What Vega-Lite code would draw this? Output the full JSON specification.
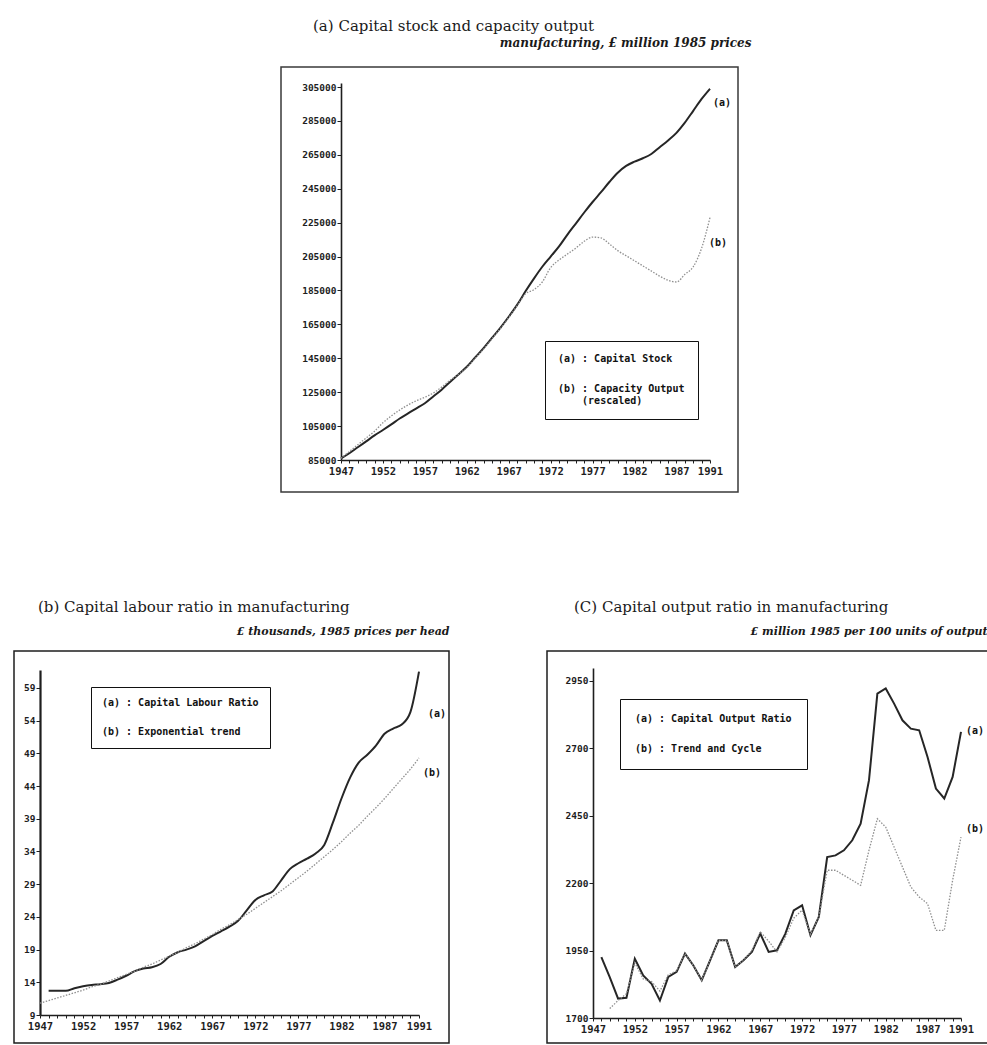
{
  "$schema": "https://vega.github.io/schema/vega-lite/v6.json",
  "background": "white",
  "autosize": {"type": "pad"},
  "padding": {"left": 13, "top": 18, "right": 0, "bottom": 0},
  "datasets": {
    "capital": [
      {"year":1947,"series":"a","value":86000},{"year":1948,"series":"a","value":89000},{"year":1949,"series":"a","value":92500},{"year":1950,"series":"a","value":96000},{"year":1951,"series":"a","value":99500},{"year":1952,"series":"a","value":102700},{"year":1953,"series":"a","value":106000},{"year":1954,"series":"a","value":109500},{"year":1955,"series":"a","value":112500},{"year":1956,"series":"a","value":115500},{"year":1957,"series":"a","value":118500},{"year":1958,"series":"a","value":122500},{"year":1959,"series":"a","value":126500},{"year":1960,"series":"a","value":131000},{"year":1961,"series":"a","value":135500},{"year":1962,"series":"a","value":140000},{"year":1963,"series":"a","value":145500},{"year":1964,"series":"a","value":151000},{"year":1965,"series":"a","value":157000},{"year":1966,"series":"a","value":163000},{"year":1967,"series":"a","value":169500},{"year":1968,"series":"a","value":176500},{"year":1969,"series":"a","value":184500},{"year":1970,"series":"a","value":192000},{"year":1971,"series":"a","value":199000},{"year":1972,"series":"a","value":205000},{"year":1973,"series":"a","value":211000},{"year":1974,"series":"a","value":218000},{"year":1975,"series":"a","value":224500},{"year":1976,"series":"a","value":231000},{"year":1977,"series":"a","value":237200},{"year":1978,"series":"a","value":243000},{"year":1979,"series":"a","value":249000},{"year":1980,"series":"a","value":254500},{"year":1981,"series":"a","value":258500},{"year":1982,"series":"a","value":261000},{"year":1983,"series":"a","value":263000},{"year":1984,"series":"a","value":265500},{"year":1985,"series":"a","value":269500},{"year":1986,"series":"a","value":273500},{"year":1987,"series":"a","value":278000},{"year":1988,"series":"a","value":284000},{"year":1989,"series":"a","value":291000},{"year":1990,"series":"a","value":298000},{"year":1991,"series":"a","value":304000},
      {"year":1947,"series":"b","value":86000},{"year":1948,"series":"b","value":90000},{"year":1949,"series":"b","value":94000},{"year":1950,"series":"b","value":98000},{"year":1951,"series":"b","value":102000},{"year":1952,"series":"b","value":107000},{"year":1953,"series":"b","value":111000},{"year":1954,"series":"b","value":114500},{"year":1955,"series":"b","value":117500},{"year":1956,"series":"b","value":120000},{"year":1957,"series":"b","value":122000},{"year":1958,"series":"b","value":124500},{"year":1959,"series":"b","value":128000},{"year":1960,"series":"b","value":132000},{"year":1961,"series":"b","value":135500},{"year":1962,"series":"b","value":139500},{"year":1963,"series":"b","value":145000},{"year":1964,"series":"b","value":150500},{"year":1965,"series":"b","value":156500},{"year":1966,"series":"b","value":162500},{"year":1967,"series":"b","value":169000},{"year":1968,"series":"b","value":176000},{"year":1969,"series":"b","value":183000},{"year":1970,"series":"b","value":185500},{"year":1971,"series":"b","value":190000},{"year":1972,"series":"b","value":198500},{"year":1973,"series":"b","value":203000},{"year":1974,"series":"b","value":206500},{"year":1975,"series":"b","value":210000},{"year":1976,"series":"b","value":214000},{"year":1977,"series":"b","value":216500},{"year":1978,"series":"b","value":216000},{"year":1979,"series":"b","value":212500},{"year":1980,"series":"b","value":208500},{"year":1981,"series":"b","value":205500},{"year":1982,"series":"b","value":202500},{"year":1983,"series":"b","value":199500},{"year":1984,"series":"b","value":196500},{"year":1985,"series":"b","value":193500},{"year":1986,"series":"b","value":191000},{"year":1987,"series":"b","value":190000},{"year":1988,"series":"b","value":194500},{"year":1989,"series":"b","value":199000},{"year":1990,"series":"b","value":210000},{"year":1991,"series":"b","value":228000}
    ],
    "labour": [
      {"year":1948,"series":"a","value":12.7},{"year":1949,"series":"a","value":12.7},{"year":1950,"series":"a","value":12.7},{"year":1951,"series":"a","value":13.1},{"year":1952,"series":"a","value":13.4},{"year":1953,"series":"a","value":13.6},{"year":1954,"series":"a","value":13.7},{"year":1955,"series":"a","value":13.9},{"year":1956,"series":"a","value":14.4},{"year":1957,"series":"a","value":15.0},{"year":1958,"series":"a","value":15.7},{"year":1959,"series":"a","value":16.1},{"year":1960,"series":"a","value":16.3},{"year":1961,"series":"a","value":16.8},{"year":1962,"series":"a","value":17.9},{"year":1963,"series":"a","value":18.6},{"year":1964,"series":"a","value":19.0},{"year":1965,"series":"a","value":19.5},{"year":1966,"series":"a","value":20.3},{"year":1967,"series":"a","value":21.1},{"year":1968,"series":"a","value":21.8},{"year":1969,"series":"a","value":22.5},{"year":1970,"series":"a","value":23.4},{"year":1971,"series":"a","value":25.0},{"year":1972,"series":"a","value":26.6},{"year":1973,"series":"a","value":27.3},{"year":1974,"series":"a","value":27.9},{"year":1975,"series":"a","value":29.6},{"year":1976,"series":"a","value":31.3},{"year":1977,"series":"a","value":32.2},{"year":1978,"series":"a","value":32.9},{"year":1979,"series":"a","value":33.7},{"year":1980,"series":"a","value":35.0},{"year":1981,"series":"a","value":38.4},{"year":1982,"series":"a","value":42.1},{"year":1983,"series":"a","value":45.3},{"year":1984,"series":"a","value":47.6},{"year":1985,"series":"a","value":48.8},{"year":1986,"series":"a","value":50.2},{"year":1987,"series":"a","value":52.0},{"year":1988,"series":"a","value":52.8},{"year":1989,"series":"a","value":53.4},{"year":1990,"series":"a","value":55.3},{"year":1991,"series":"a","value":61.5},
      {"year":1947,"series":"b","value":10.8},{"year":1948,"series":"b","value":11.2},{"year":1949,"series":"b","value":11.6},{"year":1950,"series":"b","value":12.0},{"year":1951,"series":"b","value":12.4},{"year":1952,"series":"b","value":12.8},{"year":1953,"series":"b","value":13.3},{"year":1954,"series":"b","value":13.7},{"year":1955,"series":"b","value":14.2},{"year":1956,"series":"b","value":14.7},{"year":1957,"series":"b","value":15.2},{"year":1958,"series":"b","value":15.7},{"year":1959,"series":"b","value":16.3},{"year":1960,"series":"b","value":16.8},{"year":1961,"series":"b","value":17.4},{"year":1962,"series":"b","value":18.0},{"year":1963,"series":"b","value":18.6},{"year":1964,"series":"b","value":19.3},{"year":1965,"series":"b","value":19.9},{"year":1966,"series":"b","value":20.6},{"year":1967,"series":"b","value":21.3},{"year":1968,"series":"b","value":22.1},{"year":1969,"series":"b","value":22.8},{"year":1970,"series":"b","value":23.6},{"year":1971,"series":"b","value":24.4},{"year":1972,"series":"b","value":25.3},{"year":1973,"series":"b","value":26.2},{"year":1974,"series":"b","value":27.1},{"year":1975,"series":"b","value":28.0},{"year":1976,"series":"b","value":29.0},{"year":1977,"series":"b","value":30.0},{"year":1978,"series":"b","value":31.0},{"year":1979,"series":"b","value":32.1},{"year":1980,"series":"b","value":33.2},{"year":1981,"series":"b","value":34.3},{"year":1982,"series":"b","value":35.5},{"year":1983,"series":"b","value":36.8},{"year":1984,"series":"b","value":38.0},{"year":1985,"series":"b","value":39.4},{"year":1986,"series":"b","value":40.7},{"year":1987,"series":"b","value":42.1},{"year":1988,"series":"b","value":43.6},{"year":1989,"series":"b","value":45.1},{"year":1990,"series":"b","value":46.6},{"year":1991,"series":"b","value":48.3}
    ],
    "output": [
      {"year":1948,"series":"a","value":1926},{"year":1949,"series":"a","value":1852},{"year":1950,"series":"a","value":1772},{"year":1951,"series":"a","value":1775},{"year":1952,"series":"a","value":1920},{"year":1953,"series":"a","value":1858},{"year":1954,"series":"a","value":1827},{"year":1955,"series":"a","value":1765},{"year":1956,"series":"a","value":1852},{"year":1957,"series":"a","value":1871},{"year":1958,"series":"a","value":1939},{"year":1959,"series":"a","value":1895},{"year":1960,"series":"a","value":1840},{"year":1961,"series":"a","value":1914},{"year":1962,"series":"a","value":1988},{"year":1963,"series":"a","value":1988},{"year":1964,"series":"a","value":1889},{"year":1965,"series":"a","value":1914},{"year":1966,"series":"a","value":1945},{"year":1967,"series":"a","value":2013},{"year":1968,"series":"a","value":1945},{"year":1969,"series":"a","value":1951},{"year":1970,"series":"a","value":2013},{"year":1971,"series":"a","value":2099},{"year":1972,"series":"a","value":2118},{"year":1973,"series":"a","value":2007},{"year":1974,"series":"a","value":2075},{"year":1975,"series":"a","value":2297},{"year":1976,"series":"a","value":2303},{"year":1977,"series":"a","value":2322},{"year":1978,"series":"a","value":2359},{"year":1979,"series":"a","value":2421},{"year":1980,"series":"a","value":2582},{"year":1981,"series":"a","value":2903},{"year":1982,"series":"a","value":2922},{"year":1983,"series":"a","value":2866},{"year":1984,"series":"a","value":2804},{"year":1985,"series":"a","value":2773},{"year":1986,"series":"a","value":2767},{"year":1987,"series":"a","value":2668},{"year":1988,"series":"a","value":2551},{"year":1989,"series":"a","value":2514},{"year":1990,"series":"a","value":2594},{"year":1991,"series":"a","value":2761},
      {"year":1949,"series":"b","value":1735},{"year":1950,"series":"b","value":1765},{"year":1951,"series":"b","value":1790},{"year":1952,"series":"b","value":1905},{"year":1953,"series":"b","value":1845},{"year":1954,"series":"b","value":1835},{"year":1955,"series":"b","value":1800},{"year":1956,"series":"b","value":1860},{"year":1957,"series":"b","value":1875},{"year":1958,"series":"b","value":1939},{"year":1959,"series":"b","value":1895},{"year":1960,"series":"b","value":1840},{"year":1961,"series":"b","value":1914},{"year":1962,"series":"b","value":1988},{"year":1963,"series":"b","value":1988},{"year":1964,"series":"b","value":1889},{"year":1965,"series":"b","value":1914},{"year":1966,"series":"b","value":1950},{"year":1967,"series":"b","value":2020},{"year":1968,"series":"b","value":1985},{"year":1969,"series":"b","value":1945},{"year":1970,"series":"b","value":2000},{"year":1971,"series":"b","value":2070},{"year":1972,"series":"b","value":2100},{"year":1973,"series":"b","value":2010},{"year":1974,"series":"b","value":2075},{"year":1975,"series":"b","value":2248},{"year":1976,"series":"b","value":2248},{"year":1977,"series":"b","value":2229},{"year":1978,"series":"b","value":2211},{"year":1979,"series":"b","value":2192},{"year":1980,"series":"b","value":2322},{"year":1981,"series":"b","value":2439},{"year":1982,"series":"b","value":2408},{"year":1983,"series":"b","value":2334},{"year":1984,"series":"b","value":2260},{"year":1985,"series":"b","value":2186},{"year":1986,"series":"b","value":2149},{"year":1987,"series":"b","value":2124},{"year":1988,"series":"b","value":2025},{"year":1989,"series":"b","value":2025},{"year":1990,"series":"b","value":2211},{"year":1991,"series":"b","value":2371}
    ]
  },
  "config": {
    "view": {"stroke": null},
    "font": "DejaVu Sans Mono",
    "title": {"font": "DejaVu Serif", "fontSize": 15, "fontWeight": "normal", "color": "#1a1a1a", "anchor": "start", "baseline": "alphabetic"},
    "axis": {"grid": false, "labelFont": "DejaVu Sans Mono", "labelFontWeight": "bold", "labelColor": "#1e1e1e", "domainColor": "#1e1e1e", "tickColor": "#1e1e1e", "domainWidth": 1.6, "tickWidth": 1, "labelOverlap": false, "labelFlush": false, "labelBound": false, "tickCount": 100},
    "axisX": {"tickSize": 3, "labelPadding": 3, "labelFontSize": 10.5},
    "axisY": {"tickSize": 4, "labelPadding": 1, "labelFontSize": 9.5},
    "legend": {"orient": "none", "direction": "vertical", "symbolSize": 0, "symbolOpacity": 0, "symbolStrokeWidth": 0, "labelOffset": -10, "strokeColor": "#111111", "labelFont": "DejaVu Sans Mono", "labelFontWeight": "bold", "labelFontSize": 10, "labelColor": "#111111", "labelLimit": 300}
  },
  "spacing": 106,
  "resolve": {"scale": {"color": "independent"}, "legend": {"color": "independent"}},
  "vconcat": [
    {
      "spacing": 0,
      "bounds": "flush",
      "resolve": {"scale": {"color": "independent"}, "legend": {"color": "independent"}},
      "hconcat": [
        {
          "width": 267, "height": 425,
          "data": {"values": [{}]},
          "mark": {"type": "text"},
          "encoding": {"text": {"value": ""}}
        },
        {
          "width": 457, "height": 425,
          "view": {"stroke": "#3a3a3a", "strokeWidth": 1.5},
          "title": {"text": "(a)  Capital stock and capacity output", "dx": 32, "offset": 2},
          "data": {"name": "capital"},
          "resolve": {"axis": {"x": "independent"}},
          "layer": [
            {
              "transform": [{"filter": "datum.series == 'a'"}],
              "mark": {"type": "line", "strokeWidth": 2, "interpolate": "monotone"},
              "encoding": {
                "x": {"field": "year", "type": "quantitative",
                  "scale": {"domain": [1947, 1991], "range": [60, 429], "nice": false, "zero": false},
                  "axis": {"title": null, "orient": "bottom", "offset": -32, "format": "d", "labelOverlap": false, "tickCount": 100,
                    "values": [1947,1948,1949,1950,1951,1952,1953,1954,1955,1956,1957,1958,1959,1960,1961,1962,1963,1964,1965,1966,1967,1968,1969,1970,1971,1972,1973,1974,1975,1976,1977,1978,1979,1980,1981,1982,1983,1984,1985,1986,1987,1988,1989,1990,1991],
                    "labelExpr": "indexof([1947,1952,1957,1962,1967,1972,1977,1982,1987,1991], datum.value) >= 0 ? datum.label : ''"}},
                "y": {"field": "value", "type": "quantitative",
                  "scale": {"domain": [85000, 307400], "range": [393, 16], "nice": false, "zero": false},
                  "axis": {"title": null, "offset": -60, "format": "d", "labelOverlap": false, "tickCount": 100,
                    "values": [85000,105000,125000,145000,165000,185000,205000,225000,245000,265000,285000,305000]}},
                "color": {"field": "series", "type": "nominal",
                  "scale": {"domain": ["a", "b"], "range": ["#262626", "#8f8f8f"]},
                  "legend": {"title": null, "legendX": 264, "legendY": 274, "padding": 13, "rowPadding": 20, "labelOffset": -10,
                    "labelExpr": "datum.label == 'a' ? '(a) : Capital Stock' : ['(b) : Capacity Output', '\u200b\u00a0\u00a0\u00a0\u00a0(rescaled)']"}}
              }
            },
            {
              "transform": [{"filter": "datum.series == 'b'"}],
              "mark": {"type": "line", "strokeWidth": 1.3, "strokeDash": [1.5, 1.5], "interpolate": "monotone"},
              "encoding": {
                "x": {"field": "year", "type": "quantitative", "axis": null},
                "y": {"field": "value", "type": "quantitative"},
                "color": {"field": "series", "type": "nominal"}
              }
            },
            {
              "transform": [{"filter": "datum.series == 'a' && datum.year == 1991"}],
              "mark": {"type": "text", "align": "left", "dx": 3, "dy": 14, "fontWeight": "bold", "fontSize": 10, "color": "#111111"},
              "encoding": {
                "x": {"field": "year", "type": "quantitative",
                  "axis": {"orient": "top", "title": "manufacturing, £ million 1985 prices", "labels": false, "ticks": false, "domain": false,
                    "titleX": 470, "titleY": -21, "titleAlign": "right", "titleBaseline": "alphabetic", "titleFont": "DejaVu Serif",
                    "titleFontStyle": "italic", "titleFontWeight": "bold", "titleFontSize": 12, "titleColor": "#1a1a1a"}},
                "y": {"field": "value", "type": "quantitative"},
                "text": {"value": "(a)"}
              }
            },
            {
              "transform": [{"filter": "datum.series == 'b' && datum.year == 1991"}],
              "mark": {"type": "text", "align": "left", "dx": -1, "dy": 25, "fontWeight": "bold", "fontSize": 10, "color": "#111111"},
              "encoding": {
                "x": {"field": "year", "type": "quantitative", "axis": null},
                "y": {"field": "value", "type": "quantitative"},
                "text": {"value": "(b)"}
              }
            }
          ]
        }
      ]
    },
    {
      "spacing": 98,
      "bounds": "flush",
      "resolve": {"scale": {"color": "independent"}, "legend": {"color": "independent"}},
      "hconcat": [
        {
          "width": 435, "height": 392,
          "view": {"stroke": "#1e1e1e", "strokeWidth": 1.5},
          "title": {"text": "(b)  Capital labour ratio in manufacturing", "dx": 24, "offset": 10},
          "data": {"name": "labour"},
          "resolve": {"axis": {"x": "independent"}},
          "layer": [
            {
              "transform": [{"filter": "datum.series == 'a'"}],
              "mark": {"type": "line", "strokeWidth": 2, "interpolate": "monotone"},
              "encoding": {
                "x": {"field": "year", "type": "quantitative",
                  "scale": {"domain": [1947, 1991], "range": [26, 405], "nice": false, "zero": false},
                  "axis": {"title": null, "orient": "bottom", "offset": -28, "format": "d", "labelOverlap": false, "tickCount": 100,
                    "values": [1947,1948,1949,1950,1951,1952,1953,1954,1955,1956,1957,1958,1959,1960,1961,1962,1963,1964,1965,1966,1967,1968,1969,1970,1971,1972,1973,1974,1975,1976,1977,1978,1979,1980,1981,1982,1983,1984,1985,1986,1987,1988,1989,1990,1991],
                    "labelExpr": "indexof([1947,1952,1957,1962,1967,1972,1977,1982,1987,1991], datum.value) >= 0 ? datum.label : ''"}},
                "y": {"field": "value", "type": "quantitative",
                  "scale": {"domain": [9, 61.75], "range": [364, 19], "nice": false, "zero": false},
                  "axis": {"title": null, "offset": -26, "format": "d", "domainWidth": 2.2, "labelOverlap": false, "tickCount": 100,
                    "values": [9,14,19,24,29,34,39,44,49,54,59]}},
                "color": {"field": "series", "type": "nominal",
                  "scale": {"domain": ["a", "b"], "range": ["#262626", "#8f8f8f"]},
                  "legend": {"title": null, "legendX": 77, "legendY": 36, "padding": 11, "rowPadding": 19, "labelOffset": -10,
                    "labelExpr": "datum.label == 'a' ? '(a) : Capital Labour Ratio' : '(b) : Exponential trend'"}}
              }
            },
            {
              "transform": [{"filter": "datum.series == 'b'"}],
              "mark": {"type": "line", "strokeWidth": 1.3, "strokeDash": [1.5, 1.5], "interpolate": "monotone"},
              "encoding": {
                "x": {"field": "year", "type": "quantitative", "axis": null},
                "y": {"field": "value", "type": "quantitative"},
                "color": {"field": "series", "type": "nominal"}
              }
            },
            {
              "transform": [{"filter": "datum.series == 'a' && datum.year == 1991"}],
              "mark": {"type": "text", "align": "left", "dx": 9, "dy": 42, "fontWeight": "bold", "fontSize": 10, "color": "#111111"},
              "encoding": {
                "x": {"field": "year", "type": "quantitative",
                  "axis": {"orient": "top", "title": "£ thousands, 1985 prices per head", "labels": false, "ticks": false, "domain": false,
                    "titleX": 435, "titleY": -17, "titleAlign": "right", "titleBaseline": "alphabetic", "titleFont": "DejaVu Serif",
                    "titleFontStyle": "italic", "titleFontWeight": "bold", "titleFontSize": 11, "titleColor": "#1a1a1a"}},
                "y": {"field": "value", "type": "quantitative"},
                "text": {"value": "(a)"}
              }
            },
            {
              "transform": [{"filter": "datum.series == 'b' && datum.year == 1991"}],
              "mark": {"type": "text", "align": "left", "dx": 4, "dy": 15, "fontWeight": "bold", "fontSize": 10, "color": "#111111"},
              "encoding": {
                "x": {"field": "year", "type": "quantitative", "axis": null},
                "y": {"field": "value", "type": "quantitative"},
                "text": {"value": "(b)"}
              }
            }
          ]
        },
        {
          "width": 441, "height": 392,
          "view": {"stroke": "#1e1e1e", "strokeWidth": 1.5},
          "title": {"text": "(C)  Capital output ratio in manufacturing", "dx": 27, "offset": 10},
          "data": {"name": "output"},
          "resolve": {"axis": {"x": "independent"}},
          "layer": [
            {
              "transform": [{"filter": "datum.series == 'a'"}],
              "mark": {"type": "line", "strokeWidth": 2},
              "encoding": {
                "x": {"field": "year", "type": "quantitative",
                  "scale": {"domain": [1947, 1991], "range": [46, 414], "nice": false, "zero": false},
                  "axis": {"title": null, "orient": "bottom", "offset": -25, "format": "d", "labelOverlap": false, "tickCount": 100,
                    "values": [1947,1948,1949,1950,1951,1952,1953,1954,1955,1956,1957,1958,1959,1960,1961,1962,1963,1964,1965,1966,1967,1968,1969,1970,1971,1972,1973,1974,1975,1976,1977,1978,1979,1980,1981,1982,1983,1984,1985,1986,1987,1988,1989,1990,1991],
                    "labelExpr": "indexof([1947,1952,1957,1962,1967,1972,1977,1982,1987,1991], datum.value) >= 0 ? datum.label : ''"}},
                "y": {"field": "value", "type": "quantitative",
                  "scale": {"domain": [1700, 2998], "range": [367, 17], "nice": false, "zero": false},
                  "axis": {"title": null, "offset": -46, "format": "d", "labelOverlap": false, "tickCount": 100,
                    "values": [1700,1950,2200,2450,2700,2950]}},
                "color": {"field": "series", "type": "nominal",
                  "scale": {"domain": ["a", "b"], "range": ["#262626", "#8f8f8f"]},
                  "legend": {"title": null, "legendX": 73, "legendY": 48, "padding": 15, "rowPadding": 20, "labelOffset": -10,
                    "labelExpr": "datum.label == 'a' ? '(a) : Capital Output Ratio' : '(b) : Trend and Cycle'"}}
              }
            },
            {
              "transform": [{"filter": "datum.series == 'b'"}],
              "mark": {"type": "line", "strokeWidth": 1.3, "strokeDash": [1.5, 1.5]},
              "encoding": {
                "x": {"field": "year", "type": "quantitative", "axis": null},
                "y": {"field": "value", "type": "quantitative"},
                "color": {"field": "series", "type": "nominal"}
              }
            },
            {
              "transform": [{"filter": "datum.series == 'a' && datum.year == 1991"}],
              "mark": {"type": "text", "align": "left", "dx": 5, "dy": -1, "fontWeight": "bold", "fontSize": 10, "color": "#111111"},
              "encoding": {
                "x": {"field": "year", "type": "quantitative",
                  "axis": {"orient": "top", "title": "£ million 1985 per 100 units of output", "labels": false, "ticks": false, "domain": false,
                    "titleX": 440, "titleY": -17, "titleAlign": "right", "titleBaseline": "alphabetic", "titleFont": "DejaVu Serif",
                    "titleFontStyle": "italic", "titleFontWeight": "bold", "titleFontSize": 11, "titleColor": "#1a1a1a"}},
                "y": {"field": "value", "type": "quantitative"},
                "text": {"value": "(a)"}
              }
            },
            {
              "transform": [{"filter": "datum.series == 'b' && datum.year == 1991"}],
              "mark": {"type": "text", "align": "left", "dx": 5, "dy": -8, "fontWeight": "bold", "fontSize": 10, "color": "#111111"},
              "encoding": {
                "x": {"field": "year", "type": "quantitative", "axis": null},
                "y": {"field": "value", "type": "quantitative"},
                "text": {"value": "(b)"}
              }
            }
          ]
        }
      ]
    }
  ]
}
